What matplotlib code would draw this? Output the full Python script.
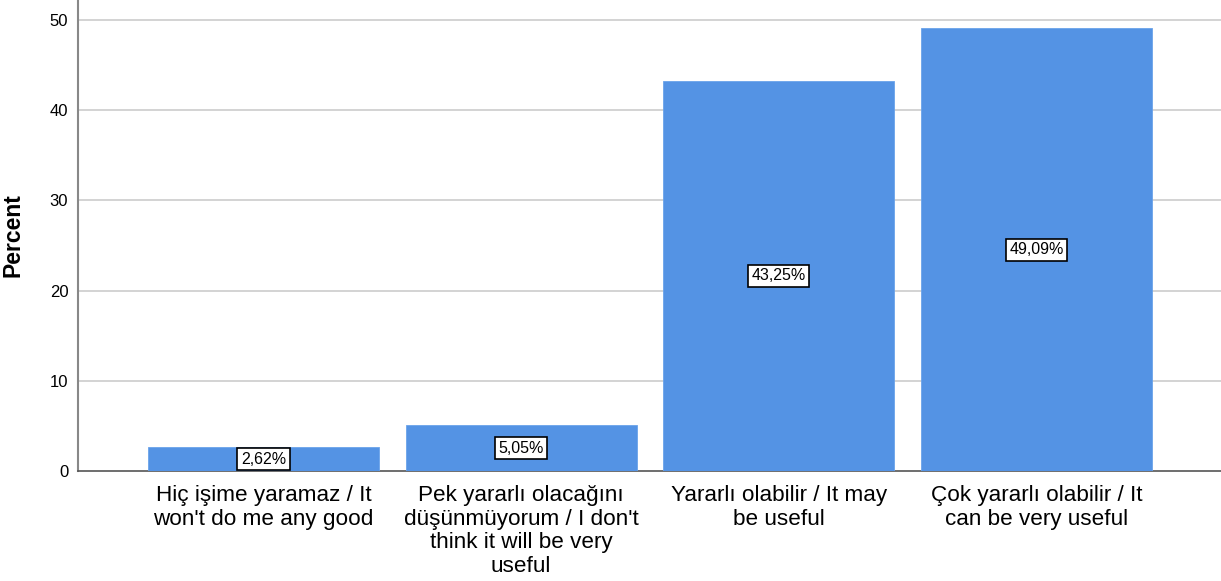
import matplotlib.pyplot as plt

categories = [
    "Hiç işime yaramaz / It\nwon't do me any good",
    "Pek yararlı olacağını\ndüşünmüyorum / I don't\nthink it will be very\nuseful",
    "Yararlı olabilir / It may\nbe useful",
    "Çok yararlı olabilir / It\ncan be very useful",
]
percent = [2.62, 5.05, 43.25, 49.09]
labels = ["2,62%", "5,05%", "43,25%", "49,09%"]
yticks = [0, 10, 20, 30, 40, 50]

plt.rcParams['font.family'] = ['Liberation Sans', 'DejaVu Sans']

fig = plt.figure(figsize=(12.21, 5.81), dpi=100)
ax = fig.add_axes([78 / 1221, 110 / 581, 1143 / 1221, 471 / 581])

x = range(len(categories))
bars = ax.bar(x, percent, width=0.897, color='#5493e4', edgecolor='#6aa3ea', linewidth=0.6, zorder=3)

for b, v, lab in zip(bars, percent, labels):
    ax.text(b.get_x() + b.get_width() / 2, v / 2, lab, ha='center', va='center', fontsize=11.5,
            zorder=5, bbox=dict(boxstyle='square,pad=0.22', facecolor='white', edgecolor='black', linewidth=1.2))

ax.set_xlim(-0.72, 3.716)
ax.set_ylim(0, 52.22)
ax.set_yticks(yticks)
ax.set_yticklabels([str(t) for t in yticks], fontsize=12)
ax.set_xticks(list(x))
ax.set_xticklabels(categories, fontsize=16.2, linespacing=1.17)
ax.tick_params(axis='y', length=0, pad=7)
ax.tick_params(axis='x', length=0, pad=10)
ax.set_ylabel('Percent', fontsize=16.5, fontweight='bold', labelpad=18)

ax.yaxis.grid(True, color='#cccccc', linewidth=1.2, zorder=0)
for t in ax.yaxis.get_gridlines()[:1]:
    t.set_visible(False)
ax.spines['top'].set_visible(False)
ax.spines['right'].set_visible(False)
ax.spines['left'].set_color('#888888')
ax.spines['left'].set_linewidth(1.5)
ax.spines['bottom'].set_color('#555555')
ax.spines['bottom'].set_linewidth(1.2)

fig.savefig('out.png', dpi=100)
